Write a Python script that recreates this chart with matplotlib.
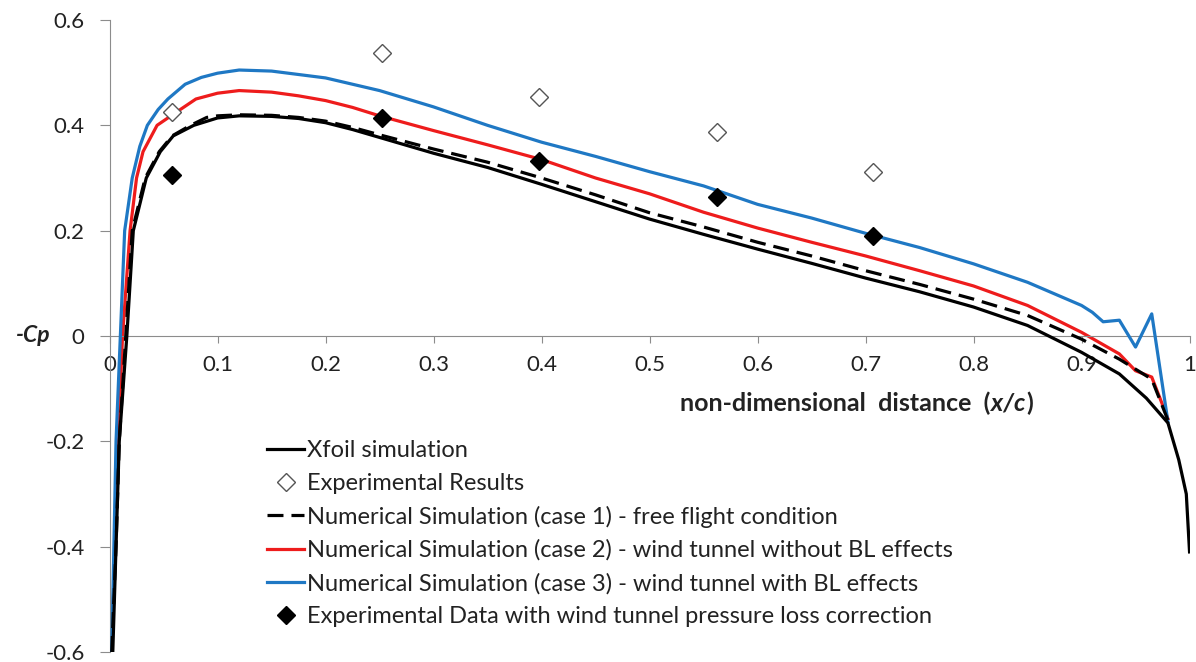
import matplotlib
matplotlib.use('Agg')
import matplotlib.pyplot as plt
from matplotlib.transforms import blended_transform_factory

plt.rcParams['font.family'] = ['Lato', 'DejaVu Sans']

# Xfoil simulation
xfoil_x = [0.003, 0.006, 0.009, 0.016, 0.022, 0.034, 0.047, 0.059, 0.078, 0.1, 0.12, 0.15, 0.175, 0.2,
           0.225, 0.25, 0.3, 0.35, 0.4, 0.45, 0.5, 0.55, 0.6, 0.65, 0.7, 0.75, 0.8, 0.85, 0.9, 0.935,
           0.96, 0.98, 0.99, 0.997, 1.0]
xfoil_cp = [-0.6, -0.4, -0.2, 0.0, 0.2, 0.3, 0.35, 0.38, 0.40, 0.414, 0.418, 0.417, 0.413, 0.405,
            0.392, 0.377, 0.347, 0.320, 0.288, 0.255, 0.222, 0.193, 0.165, 0.138, 0.11, 0.084, 0.055,
            0.02, -0.031, -0.072, -0.118, -0.165, -0.235, -0.30, -0.41]

# case 1 - free flight
case1_x = [0.002, 0.006, 0.009, 0.015, 0.021, 0.033, 0.046, 0.058, 0.075, 0.09, 0.1, 0.12, 0.15, 0.175,
           0.2, 0.225, 0.25, 0.3, 0.35, 0.4, 0.45, 0.5, 0.55, 0.6, 0.65, 0.7, 0.75, 0.8, 0.85, 0.9,
           0.935, 0.965, 0.98]
case1_cp = [-0.6, -0.4, -0.2, 0.0, 0.2, 0.3, 0.35, 0.38, 0.40, 0.415, 0.418, 0.42, 0.419, 0.415,
            0.408, 0.396, 0.382, 0.355, 0.330, 0.300, 0.268, 0.234, 0.207, 0.178, 0.152, 0.124,
            0.098, 0.07, 0.039, -0.006, -0.044, -0.082, -0.16]

# case 2 - wind tunnel without BL
case2_x = [0.002, 0.005, 0.008, 0.012, 0.019, 0.025, 0.031, 0.044, 0.059, 0.08, 0.1, 0.12, 0.15, 0.175,
           0.2, 0.225, 0.25, 0.3, 0.35, 0.4, 0.45, 0.5, 0.55, 0.6, 0.65, 0.7, 0.75, 0.8, 0.85, 0.9,
           0.935, 0.95, 0.965, 0.98]
case2_cp = [-0.6, -0.4, -0.2, 0.0, 0.2, 0.3, 0.35, 0.40, 0.421, 0.45, 0.461, 0.466, 0.463, 0.456,
            0.447, 0.434, 0.418, 0.39, 0.363, 0.335, 0.300, 0.27, 0.235, 0.205, 0.178, 0.152, 0.124,
            0.095, 0.058, 0.007, -0.034, -0.066, -0.078, -0.157]

# case 3 - wind tunnel with BL
case3_x = [0.002, 0.004, 0.006, 0.01, 0.014, 0.021, 0.028, 0.035, 0.045, 0.054, 0.07, 0.085, 0.1, 0.12,
           0.15, 0.2, 0.25, 0.3, 0.35, 0.4, 0.45, 0.5, 0.55, 0.6, 0.65, 0.7, 0.75, 0.8, 0.85, 0.9,
           0.91, 0.92, 0.935, 0.95, 0.965, 0.98]
case3_cp = [-0.6, -0.4, -0.2, 0.0, 0.2, 0.3, 0.36, 0.4, 0.43, 0.45, 0.478, 0.491, 0.499, 0.505,
            0.503, 0.49, 0.466, 0.435, 0.40, 0.368, 0.341, 0.312, 0.285, 0.25, 0.224, 0.195, 0.168,
            0.137, 0.102, 0.058, 0.045, 0.027, 0.030, -0.021, 0.042, -0.163]

exp_x = [0.058, 0.252, 0.398, 0.5625, 0.707]
exp_cp = [0.425, 0.537, 0.453, 0.387, 0.311]
exp_corr_cp = [0.305, 0.414, 0.332, 0.264, 0.190]

xticks = [0, 0.1, 0.2, 0.3, 0.4, 0.5, 0.6, 0.7, 0.8, 0.9, 1.0]
xtick_labels = ['0', '0.1', '0.2', '0.3', '0.4', '0.5', '0.6', '0.7', '0.8', '0.9', '1']
yticks = [-0.6, -0.4, -0.2, 0, 0.2, 0.4, 0.6]
ytick_labels = ['-0.6', '-0.4', '-0.2', '0', '0.2', '0.4', '0.6']

fig = plt.figure(figsize=(11.96, 6.62), dpi=100)
ax = fig.add_axes([0.0916, 0.0151, 0.9030, 0.9547])

lw = 2.3
l_red, = ax.plot(case2_x, case2_cp, color='#ee1c1c', lw=lw, zorder=2,
                 label='Numerical Simulation (case 2) - wind tunnel without BL effects')
l_blue, = ax.plot(case3_x, case3_cp, color='#1f78c4', lw=lw, zorder=3,
                  label='Numerical Simulation (case 3) - wind tunnel with BL effects')
l_dash, = ax.plot(case1_x, case1_cp, color='black', lw=lw, ls=(0, (5, 2.5)), zorder=4,
                  label='Numerical Simulation (case 1) - free flight condition')
l_xfoil, = ax.plot(xfoil_x, xfoil_cp, color='black', lw=lw, zorder=4, label='Xfoil simulation')
l_exp, = ax.plot(exp_x, exp_cp, ls='none', marker='D', ms=9, mfc='white', mec='#555555', mew=1.0,
                 zorder=5, label='Experimental Results')
l_corr, = ax.plot(exp_x, exp_corr_cp, ls='none', marker='D', ms=9, mfc='black', mec='black',
                  zorder=5, label='Experimental Data with wind tunnel pressure loss correction')

ax.set_xlim(0, 1)
ax.set_ylim(-0.6, 0.6)
for s in ['top', 'right']:
    ax.spines[s].set_visible(False)
ax.spines['bottom'].set_position(('data', 0))
ax.spines['bottom'].set_color('#8c8c8c')
ax.spines['left'].set_color('#8c8c8c')

ax.set_xticks(xticks)
ax.set_xticklabels(xtick_labels)
ax.set_yticks(yticks)
ax.set_yticklabels(ytick_labels)
ax.tick_params(axis='x', direction='out', length=5, color='#8c8c8c', pad=9, labelsize=16,
               labelcolor='#222222')
ax.tick_params(axis='y', direction='out', length=7, color='#8c8c8c', pad=11, labelsize=16,
               labelcolor='#222222')

trans = blended_transform_factory(ax.transAxes, ax.transData)
ax.text(-0.071, 0, '-Cp', transform=trans, fontsize=16.5, fontweight='bold', fontstyle='italic',
        ha='center', va='center', color='#222222')

# x label built from pieces (x/c in italic)
renderer = fig.canvas.get_renderer()
parts = [('non-dimensional  distance  (', 'normal'), ('x/c', 'italic'), (')', 'normal')]
xpos = 680
for txt, style in parts:
    t = fig.text(xpos / 1196, 1 - 403 / 662, txt, fontsize=18, fontweight='bold', fontstyle=style,
                 ha='left', va='center', color='#222222')
    xpos = t.get_window_extent(renderer).x1 + 1

handles = [l_xfoil, l_exp, l_dash, l_red, l_blue, l_corr]
leg = ax.legend(handles=handles, loc='upper left', bbox_to_anchor=(267 / 1196, 1 - 440 / 662),
                bbox_transform=fig.transFigure, frameon=False, fontsize=17, handlelength=1.57,
                handletextpad=0.13, labelspacing=0.5, borderaxespad=0, borderpad=0)
for t in leg.get_texts():
    t.set_color('#222222')

fig.savefig('out.png', dpi=100)
